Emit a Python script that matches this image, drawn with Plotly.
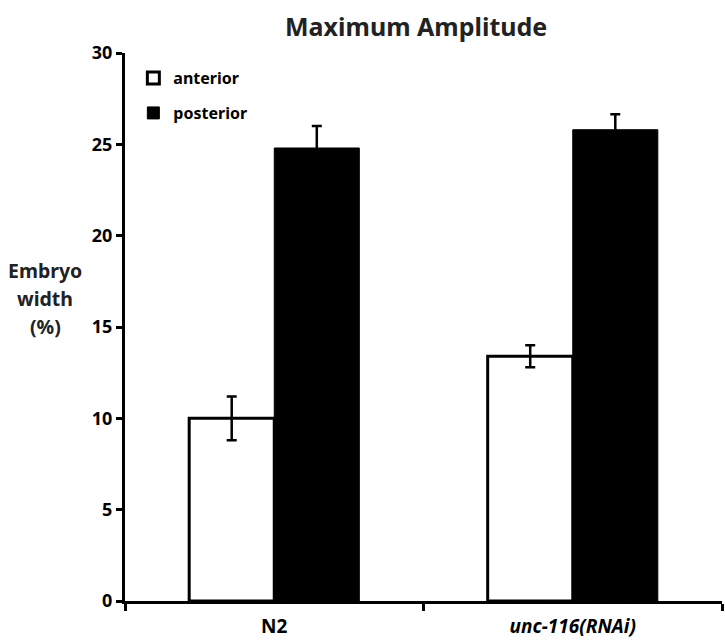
import plotly.graph_objects as go

# Maximum amplitude of embryo deformation, % of embryo width
categories = ["N2", "unc-116(RNAi)"]
category_labels = ["N2", "<i>unc-116(RNAi)</i>"]
anterior = [10.0, 13.4]
anterior_err = [1.2, 0.6]
posterior = [24.8, 25.8]
posterior_err = [1.2, 0.85]
y_ticks = [0, 5, 10, 15, 20, 25, 30]
y_title_lines = ["Embryo", "width", "(%)"]

FONT = "Noto Sans"

fig = go.Figure()
fig.add_trace(go.Bar(
    name="anterior", x=categories, y=anterior,
    marker=dict(color="white", line=dict(color="black", width=3)),
    error_y=dict(type="data", array=anterior_err, color="black", thickness=2.5, width=5),
    legendgroup="a",
))
fig.add_trace(go.Bar(
    name="posterior", x=categories, y=posterior,
    marker=dict(color="black", line=dict(color="black", width=1)),
    error_y=dict(type="data", array=posterior_err, color="black", thickness=2.5, width=5),
    legendgroup="p",
))

fig.update_layout(
    width=725, height=642,
    margin=dict(l=125, r=3, t=53, b=41),
    paper_bgcolor="white", plot_bgcolor="white",
    barmode="group", bargap=0.43, bargroupgap=0,
    title=dict(text="<b>Maximum Amplitude</b>", x=0.574, xanchor="center",
               y=0.957, yanchor="middle",
               font=dict(family=FONT, size=25, color="#222")),
    font=dict(family=FONT, color="black"),
    showlegend=True,
    legend=dict(x=0.014, y=0.985, xanchor="left", yanchor="top",
                font=dict(family=FONT, size=16, weight=700),
                tracegroupgap=11, bgcolor="rgba(0,0,0,0)"),
    xaxis=dict(
        tickvals=categories, ticktext=["<b>%s</b>" % t for t in category_labels],
        tickson="boundaries", ticks="outside", ticklen=7, tickwidth=3,
        tickcolor="black", showline=True, linecolor="black", linewidth=3,
        tickfont=dict(family=FONT, size=19),
        ticklabelstandoff=6,
        showgrid=False, zeroline=False,
    ),
    yaxis=dict(
        range=[0, 30], tickvals=y_ticks, ticktext=["<b>%d</b>" % v for v in y_ticks],
        ticks="outside", ticklen=6, tickwidth=3,
        tickcolor="black", showline=True, linecolor="black", linewidth=3,
        tickfont=dict(family=FONT, size=18),
        showgrid=False, zeroline=False,
    ),
)
for i, line in enumerate(y_title_lines):
    fig.add_annotation(text="<b>%s</b>" % line, xref="paper", yref="paper",
                       x=-0.134, y=0.6035 - i * 0.051, xanchor="center", yanchor="middle",
                       showarrow=False,
                       font=dict(family=FONT, size=19.5, color="#222"))

fig.write_html("out.html")
